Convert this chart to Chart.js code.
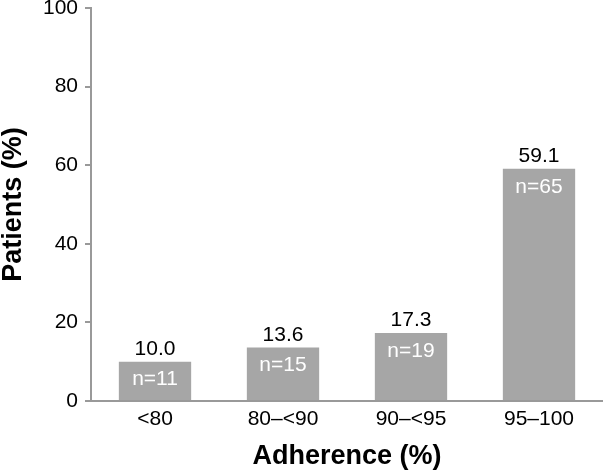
<!DOCTYPE html>
<html><head><meta charset="utf-8">
<script src="https://cdn.jsdelivr.net/npm/chart.js@4/dist/chart.umd.min.js"></script>
<style>html,body{margin:0;padding:0;background:#fff}#w{width:603px;height:470px}</style>
</head><body><div id="w"><canvas id="c"></canvas></div>
<script>
const categories = ["<80", "80\u2013<90", "90\u2013<95", "95\u2013100"];
const percents = [10.0, 13.6, 17.3, 59.1];
const counts = [11, 15, 19, 65];
const yTicks = [0, 20, 40, 60, 80, 100];

const FONT = "'Liberation Sans', Arial, sans-serif";
const labelPlugin = {
  id: 'labels',
  afterDatasetsDraw(chart) {
    const ctx = chart.ctx;
    const meta = chart.getDatasetMeta(0);
    ctx.save();
    ctx.font = "21px " + FONT;
    ctx.textAlign = 'center';
    meta.data.forEach((bar, i) => {
      ctx.fillStyle = '#000';
      ctx.textBaseline = 'alphabetic';
      ctx.fillText(percents[i].toFixed(1), bar.x, bar.y - 7);
      ctx.fillStyle = '#fff';
      ctx.textBaseline = 'middle';
      ctx.fillText('n=' + counts[i], bar.x, bar.y + 18);
    });
    ctx.restore();
  }
};

new Chart(document.getElementById('c'), {
  type: 'bar',
  data: { labels: categories, datasets: [{ data: percents, backgroundColor: '#a6a6a6', borderWidth: 0, barPercentage: 1, categoryPercentage: 0.565 }] },
  options: {
    responsive: true, maintainAspectRatio: false, animation: false,
    layout: { padding: { top: 8, right: 0, left: 0, bottom: 0 } },
    plugins: { legend: { display: false }, tooltip: { enabled: false } },
    scales: {
      x: {
        afterFit(s) { s.height = 69; s.paddingLeft = 0; s.paddingRight = 0; },
        grid: { display: false, drawTicks: false },
        border: { color: '#999', width: 2 },
        ticks: { color: '#000', font: { family: FONT, size: 21 }, padding: 6 },
        title: { display: true, text: 'Adherence (%)', color: '#000', font: { family: FONT, size: 27, weight: 'bold', lineHeight: 1 }, padding: 0 }
      },
      y: {
        min: 0, max: 100,
        afterFit(s) { s.width = 91; s.paddingTop = 0; s.paddingBottom = 0; },
        afterBuildTicks(s) { s.ticks = yTicks.map(v => ({ value: v })); },
        grid: { display: true, drawOnChartArea: false, drawTicks: true, tickLength: 6, color: '#999', lineWidth: 2 },
        border: { color: '#999', width: 2 },
        ticks: { color: '#000', font: { family: FONT, size: 21 }, padding: 7 },
        title: { display: true, text: 'Patients (%)', color: '#000', font: { family: FONT, size: 27, weight: 'bold', lineHeight: 1 }, padding: 0 }
      }
    }
  },
  plugins: [labelPlugin]
});
</script>
</body></html>
